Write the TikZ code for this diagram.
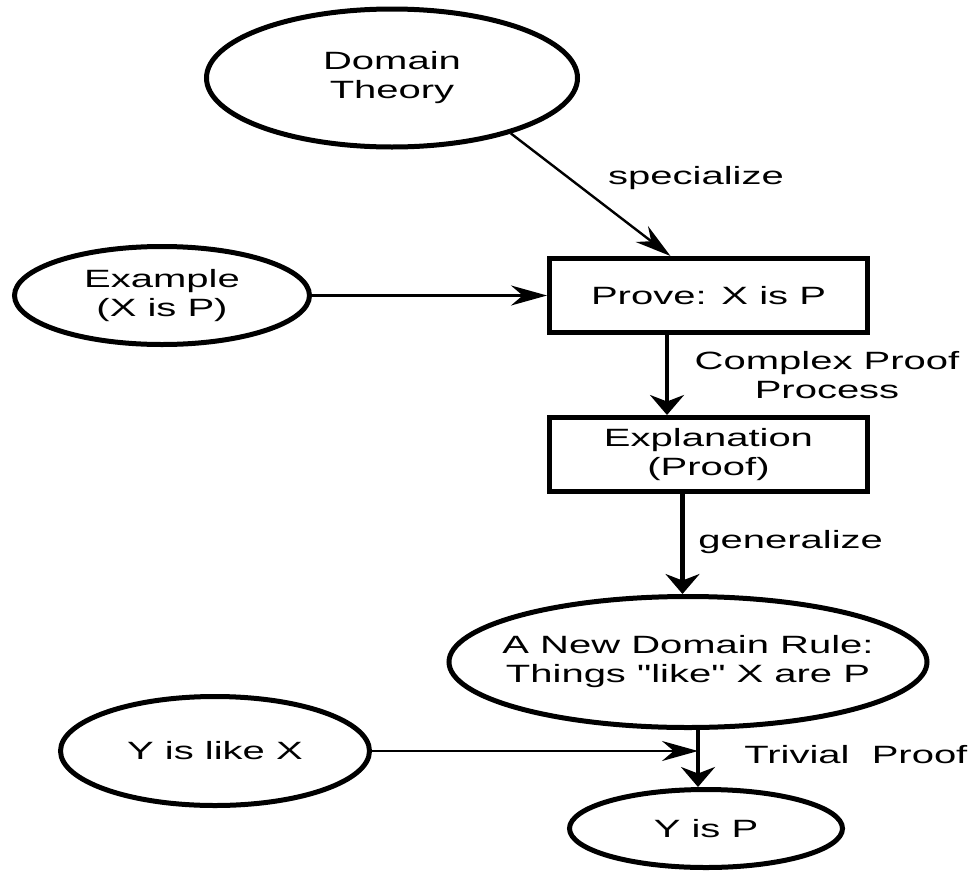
\documentclass[tikz,border=0pt]{standalone}
\usepackage{fontspec}
\setmainfont{Liberation Sans}[FakeStretch=1.6, Ligatures=TeXOff]
\usetikzlibrary{shapes.geometric, arrows.meta, positioning, calc}

\begin{document}
\begin{tikzpicture}[
  x=0.5pt, y=-0.5pt,
  every node/.style={font=\fontsize{12.5}{14.5}\selectfont},
  oval/.style={ellipse, draw=black, line width=2.5pt, align=center,
    inner sep=0pt},
  proofbox/.style={rectangle, draw=black, line width=2.5pt, align=center,
    minimum width=159pt, minimum height=37pt},
  arr/.style={-{Stealth[length=10pt, width=17pt]}, line width=2.2pt},
  thinarr/.style={-{Stealth[length=18pt, width=10pt]}, line width=1.2pt},
  lbl/.style={inner sep=0pt},
  node distance=40pt and 117.5pt
]
  \useasboundingbox (0,0) rectangle (975,873);
  \node[oval, minimum width=185.5pt, minimum height=69pt] (theory) at (392,78) {Domain\\Theory};
  \node[proofbox] (prove) at (708.5,295.5) {Prove: X is P};
  \node[oval, minimum width=147.5pt, minimum height=49pt, left=of prove] (example) {Example\\(X is P)};
  \node[proofbox, below=of prove] (expl) {Explanation\\(Proof)};
  \node[oval, minimum width=239pt, minimum height=65.5pt, inner xsep=-12pt,
    below=50pt of expl, xshift=-10.25pt] (rule) {A New Domain Rule:\\Things "like" X are P};
  \node[oval, minimum width=136.5pt, minimum height=39pt, below=28.5pt of rule, xshift=9pt] (yisp) {Y is P};
  \node[oval, minimum width=154.5pt, minimum height=54.5pt] (like) at (215,751) {Y is like X};
  \node[lbl] (spec) at (696,178) {specialize};
  \node[lbl, align=center] (cpp) at (827,375) {Complex Proof\\Process};
  \node[lbl, anchor=west] (gen) at (698,542) {generalize};
  \node[lbl, anchor=west] (triv) at (744,755) {Trivial\ \ Proof};
  \draw[thinarr] (theory.-25) -- ([xshift=-19pt]prove.north);
  \draw[thinarr] (example) -- (prove);
  \draw[arr] ([xshift=-20.75pt]prove.south) -- ([xshift=-20.75pt]expl.north);
  \draw[arr] ([xshift=-13pt]expl.south) -- ([xshift=-13pt]expl.south |- rule.north);
  \coordinate (join) at ([xshift=5pt]rule.south);
  \draw[arr] (join) -- (join |- yisp.north);
  \draw[thinarr] (like) -- (like -| join);
\end{tikzpicture}
\end{document}
